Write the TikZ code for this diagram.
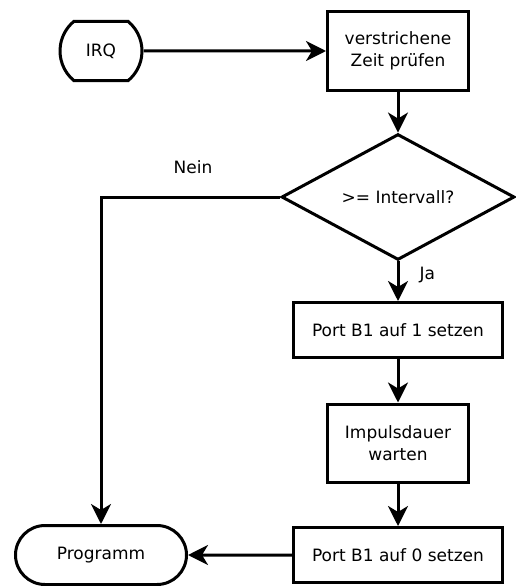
\documentclass[tikz,border=0pt]{standalone}
\usepackage{fontspec}
\setmainfont{DejaVu Sans}
\usetikzlibrary{shapes.geometric,shapes.misc,arrows.meta}

\begin{document}
\begin{tikzpicture}[
  x=1pt, y=-1pt,
  font=\fontsize{17}{22.5}\selectfont,
  proc/.style={draw=black, line width=3pt, rectangle, align=center, inner sep=0pt},
  term/.style={draw=black, line width=3pt, rounded rectangle, inner sep=0pt},
  decide/.style={draw=black, line width=3pt, diamond, inner sep=0pt,
    minimum width=233pt, minimum height=118pt},
  flow/.style={line width=3pt, -{Stealth[length=20pt, width=20pt, inset=6pt]}}
]
\useasboundingbox (0,0) rectangle (515,586);

\node[term, rounded rectangle arc length=100, minimum width=82pt, minimum height=59pt] (irq) at (101,51) {IRQ};
\node[proc, minimum width=141pt, minimum height=79pt] (zeit) at (398,51) {verstrichene\\Zeit prüfen};
\node[decide] (intv) at (398,197) {>= Intervall?};
\node[proc, minimum width=209pt, minimum height=55pt] (port1) at (398,330) {Port B1 auf 1 setzen};
\node[proc, minimum width=141pt, minimum height=78pt] (dauer) at (398,443) {Impulsdauer\\warten};
\node[proc, minimum width=209pt, minimum height=55pt] (port0) at (398,555) {Port B1 auf 0 setzen};
\node[term, rounded rectangle arc length=180, minimum width=171pt, minimum height=59pt] (prog) at (101,555) {Programm};

\draw[flow] (irq) -- (zeit);
\draw[flow] (zeit) -- (intv);
\draw[flow] (intv) -- node[pos=0.34, right=20pt, inner sep=0pt] {Ja} (port1);
\draw[flow] (port1) -- (dauer);
\draw[flow] (dauer) -- (port0);
\draw[flow] (port0) -- (prog);
\draw[flow] (intv.west) -| node[pos=0.243, above=22pt, inner sep=0pt] {Nein} (prog);
\end{tikzpicture}
\end{document}
